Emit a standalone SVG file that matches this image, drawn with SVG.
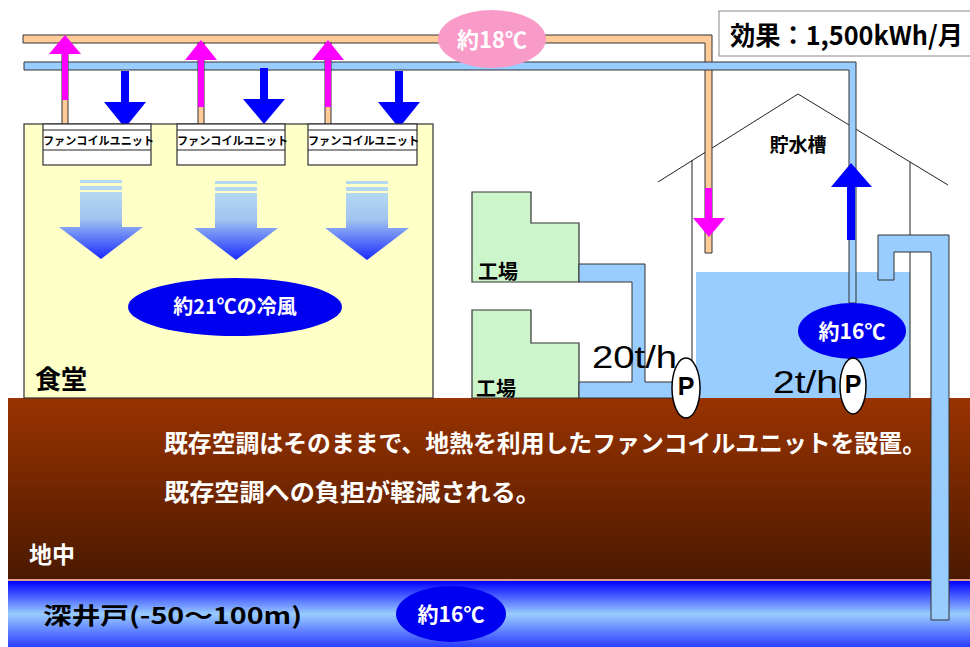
<svg xmlns="http://www.w3.org/2000/svg" width="970" height="647" viewBox="0 0 970 647">
  <defs>
    <linearGradient id="soil" x1="0" y1="0" x2="0" y2="1">
      <stop offset="0" stop-color="#993300"/>
      <stop offset="1" stop-color="#4A1900"/>
    </linearGradient>
    <linearGradient id="aquifer" x1="0" y1="0" x2="0" y2="1">
      <stop offset="0" stop-color="#0000FF"/>
      <stop offset="0.5" stop-color="#99CCFF"/>
      <stop offset="1" stop-color="#2A3CFF"/>
    </linearGradient>
    <linearGradient id="breeze" x1="0" y1="0" x2="0" y2="1">
      <stop offset="0" stop-color="#B4D8F0"/>
      <stop offset="0.4" stop-color="#A0C4F0"/>
      <stop offset="1" stop-color="#1A2AFF"/>
    </linearGradient>
    <!-- cool-air arrow, drawn around x = 0 -->
    <g id="airArrow">
      <rect x="-21" y="180" width="42" height="3" fill="#B4D8F0"/>
      <rect x="-21" y="186" width="42" height="4" fill="#B4D8F0"/>
      <path d="M-21,192 H21 V227 H42 L0,259 L-42,227 H-21 Z" fill="url(#breeze)" transform="translate(0,0)"/>
    </g>
  </defs>
  <style>
    .jp { font-family: "Noto Sans CJK JP", "Noto Sans", sans-serif; }
    .latin { font-family: "Liberation Sans", Arial, sans-serif; }
    .pipe-warm { fill: #FFCC99; stroke: #333; stroke-width: 1; }
    .pipe-cool { fill: #99CCFF; stroke: #333; stroke-width: 1; }
    .hot { fill: #FF00FF; }
    .cold { fill: #0000FF; }
    .fcu { fill: #FFFFFF; stroke: #333; stroke-width: 1.2; }
    .fcu-text { font-size: 11.5px; font-weight: 700; fill: #000; }
    .line { fill: none; stroke: #222; stroke-width: 1; }
    .badge { fill: #0000F0; }
    .badge-text { fill: #FFFFFF; font-weight: 700; text-anchor: middle; }
    .pump { fill: #FFFFFF; stroke: #000; stroke-width: 1.5; }
    .pump-text { font-size: 25px; font-weight: 700; text-anchor: middle; fill: #000; }
    .factory { fill: #CCF5CC; stroke: #333; stroke-width: 1.2; }
    .label { font-weight: 700; fill: #000; }
    .white { fill: #FFFFFF; font-weight: 700; }
  </style>

  <rect width="970" height="647" fill="#FFFFFF"/>

  <!-- ground and aquifer -->
  <g id="ground">
    <rect x="8" y="398" width="962" height="182" fill="url(#soil)"/>
    <rect x="8" y="579" width="962" height="2" fill="#E0A090"/>
    <rect x="8" y="581" width="962" height="66" fill="url(#aquifer)"/>
    <text class="jp white" x="164" y="452" font-size="24" textLength="762" lengthAdjust="spacingAndGlyphs">既存空調はそのままで、地熱を利用したファンコイルユニットを設置。</text>
    <text class="jp white" x="164" y="501" font-size="24" textLength="377" lengthAdjust="spacingAndGlyphs">既存空調への負担が軽減される。</text>
    <text class="jp white" x="29" y="563" font-size="23">地中</text>
    <text class="jp label" x="43" y="624" font-size="23" textLength="259" lengthAdjust="spacingAndGlyphs">深井戸(-50〜100m)</text>
  </g>

  <!-- canteen -->
  <g id="canteen">
    <rect x="24" y="124" width="409" height="274" fill="#FFFFC8" stroke="#333" stroke-width="1.2"/>
    <use href="#airArrow" x="101"/>
    <use href="#airArrow" x="236" y="1"/>
    <use href="#airArrow" x="367" y="1"/>
    <text class="jp label" x="35" y="389" font-size="26">食堂</text>
  </g>

  <g id="cool-air-badge">
    <ellipse class="badge" cx="235" cy="307" rx="107" ry="29"/>
    <text class="jp badge-text" x="235" y="314" font-size="20">約21℃の冷風</text>
  </g>

  <!-- storage tank house -->
  <g id="storage-tank">
    <rect x="696" y="272" width="214" height="126" fill="#99CCFF"/>
    <polyline class="line" points="658,182 798,94 948,185"/>
    <line class="line" x1="692" y1="160" x2="692" y2="398"/>
    <line class="line" x1="910" y1="162" x2="910" y2="398"/>
    <text class="jp label" x="798" y="152" font-size="19" text-anchor="middle">貯水槽</text>
  </g>

  <!-- factories -->
  <g id="factory-upper">
    <polygon class="factory" points="472,192 531,192 531,223 579,223 579,282 472,282"/>
    <text class="jp label" x="478" y="279" font-size="20">工場</text>
  </g>
  <g id="factory-lower">
    <polygon class="factory" points="472,310 531,310 531,343 579,343 579,398 472,398"/>
    <text class="jp label" x="476" y="396" font-size="20">工場</text>
  </g>

  <!-- pipes and flow arrows -->
  <g id="connectors">
    <polygon class="pipe-cool" points="579,264 645,264 645,382 673,382 673,398 579,398 579,382 632,382 632,282 579,282"/>
    <polygon class="pipe-cool" points="878,235 949,235 949,620 931,620 931,252 894,252 894,280 878,280"/>

    <polygon class="pipe-warm" points="23,35 712,35 712,253 705,253 705,43 23,43"/>
    <polygon class="pipe-cool" points="24,62 856,62 856,303 849,303 849,70 24,70"/>

    <rect class="pipe-warm" x="62" y="43" width="6" height="81"/>
    <rect class="pipe-warm" x="198" y="43" width="6" height="81"/>
    <rect class="pipe-warm" x="325" y="43" width="6" height="81"/>

    <!-- warm return arrows -->
    <rect class="hot" x="62" y="53" width="6" height="47"/>
    <polygon class="hot" points="49,54 65,35 81,54"/>
    <rect class="hot" x="198" y="59" width="6" height="48"/>
    <polygon class="hot" points="185,60 201,40 217,60"/>
    <rect class="hot" x="325" y="59" width="6" height="48"/>
    <polygon class="hot" points="312,60 328,40 344,60"/>
    <rect class="hot" x="705" y="188" width="7" height="31"/>
    <polygon class="hot" points="693,218 725,218 709,237"/>

    <!-- cool supply arrows -->
    <rect class="cold" x="121" y="71" width="8" height="32"/>
    <polygon class="cold" points="104,102 146,102 125,128"/>
    <rect class="cold" x="260" y="68" width="8" height="32"/>
    <polygon class="cold" points="243,99 285,99 264,124"/>
    <rect class="cold" x="395" y="71" width="8" height="32"/>
    <polygon class="cold" points="378,102 420,102 399,128"/>
    <rect class="cold" x="847" y="186" width="8" height="54"/>
    <polygon class="cold" points="831,187 872,187 851,163"/>
  </g>

  <!-- fan coil units -->
  <g id="fcu-1">
    <rect class="fcu" x="43" y="124" width="108" height="41"/>
    <line class="line" x1="43" y1="130" x2="151" y2="130"/>
    <line class="line" x1="43" y1="150" x2="151" y2="150"/>
    <text class="jp fcu-text" x="43" y="145" textLength="111" lengthAdjust="spacingAndGlyphs">ファンコイルユニット</text>
  </g>
  <g id="fcu-2">
    <rect class="fcu" x="177" y="124" width="108" height="41"/>
    <line class="line" x1="177" y1="130" x2="285" y2="130"/>
    <line class="line" x1="177" y1="150" x2="285" y2="150"/>
    <text class="jp fcu-text" x="177" y="145" textLength="111" lengthAdjust="spacingAndGlyphs">ファンコイルユニット</text>
  </g>
  <g id="fcu-3">
    <rect class="fcu" x="308" y="124" width="109" height="41"/>
    <line class="line" x1="308" y1="130" x2="417" y2="130"/>
    <line class="line" x1="308" y1="150" x2="417" y2="150"/>
    <text class="jp fcu-text" x="308" y="145" textLength="111" lengthAdjust="spacingAndGlyphs">ファンコイルユニット</text>
  </g>

  <!-- temperature badges -->
  <g id="return-temp">
    <ellipse cx="492" cy="39" rx="54" ry="29" fill="#F99BC9"/>
    <text class="jp badge-text" x="492" y="48" font-size="22" font-weight="400">約18℃</text>
  </g>
  <g id="tank-temp">
    <ellipse class="badge" cx="852" cy="331" rx="54" ry="28"/>
    <text class="jp badge-text" x="852" y="339" font-size="21">約16℃</text>
  </g>
  <g id="well-temp">
    <ellipse class="badge" cx="451" cy="614" rx="55" ry="28"/>
    <text class="jp badge-text" x="451" y="622" font-size="21">約16℃</text>
  </g>

  <!-- pumps -->
  <g id="pump-factory">
    <ellipse class="pump" cx="686" cy="388" rx="14" ry="30"/>
    <text class="latin pump-text" x="686" y="395">P</text>
    <text class="latin" x="592" y="368" font-size="32" textLength="85" lengthAdjust="spacingAndGlyphs">20t/h</text>
  </g>
  <g id="pump-tank">
    <ellipse class="pump" cx="853" cy="386" rx="13" ry="28"/>
    <text class="latin pump-text" x="853" y="393">P</text>
    <text class="latin" x="773" y="393" font-size="32" textLength="65" lengthAdjust="spacingAndGlyphs">2t/h</text>
  </g>

  <!-- energy saving note -->
  <g id="effect">
    <rect x="719" y="11" width="260" height="45" fill="#FFFFFF" stroke="#888" stroke-width="1"/>
    <text class="jp label" x="730" y="45" font-size="26" textLength="233" lengthAdjust="spacingAndGlyphs">効果：1,500kWh/月</text>
  </g>
</svg>
